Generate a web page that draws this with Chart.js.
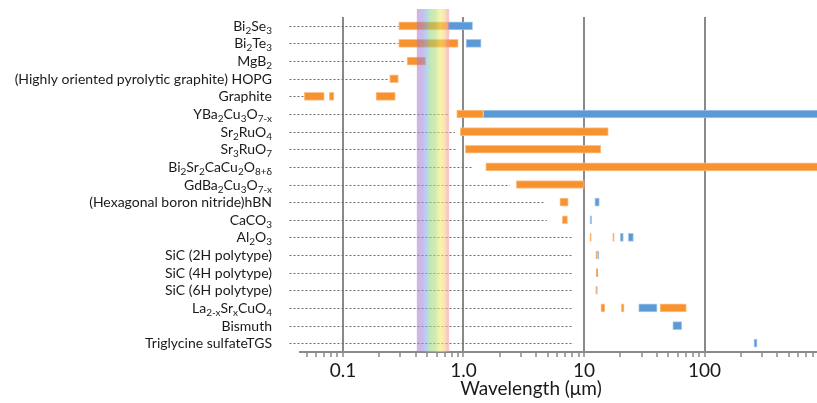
<!DOCTYPE html>
<html>
<head>
<meta charset="utf-8">
<script src="https://cdn.jsdelivr.net/npm/chart.js@4/dist/chart.umd.min.js"></script>
<style>
  html, body { margin: 0; padding: 0; background: #ffffff; }
  #wrap { width: 817px; height: 403px; }
</style>
</head>
<body>
<div id="wrap"><canvas id="c" width="817" height="403"></canvas></div>
<script>
// Materials, top to bottom. "_{...}" marks a subscript.
const materials = [
  "Bi_{2}Se_{3}",
  "Bi_{2}Te_{3}",
  "MgB_{2}",
  "(Highly oriented pyrolytic graphite) HOPG",
  "Graphite",
  "YBa_{2}Cu_{3}O_{7-x}",
  "Sr_{2}RuO_{4}",
  "Sr_{3}RuO_{7}",
  "Bi_{2}Sr_{2}CaCu_{2}O_{8+δ}",
  "GdBa_{2}Cu_{3}O_{7-x}",
  "(Hexagonal boron nitride)hBN",
  "CaCO_{3}",
  "Al_{2}O_{3}",
  "SiC (2H polytype)",
  "SiC (4H polytype)",
  "SiC (6H polytype)",
  "La_{2-x}Sr_{x}CuO_{4}",
  "Bismuth",
  "Triglycine sulfateTGS"
];

// Wavelength ranges in µm, [from, to]; one entry per material (null = none).
const orangeRangesA = [
  [0.29, 0.73], [0.29, 0.905], [0.34, 0.485], [0.244, 0.288], [0.0477, 0.070],
  [0.878, 1.46], [0.94, 15.9], [1.035, 13.8], [1.53, 1000], [2.74, 10.06],
  [6.3, 7.4], [6.6, 7.3], [11.2, 11.5], [12.5, 12.9], [12.6, 12.8],
  [12.5, 12.7], [13.8, 14.9], null, null
];
const orangeRangesB = [
  null, null, null, null, [0.0769, 0.0842],
  null, null, null, null, null,
  null, null, [17.3, 17.8], null, null,
  null, [20.4, 21.5], null, null
];
const orangeRangesC = [
  null, null, null, null, [0.188, 0.272],
  null, null, null, null, null,
  null, null, null, null, null,
  null, [42.7, 70.6], null, null
];
const blueRangesA = [
  [0.73, 1.19], [1.05, 1.40], null, null, null,
  [1.46, 1000], null, null, null, null,
  [12.3, 13.4], [11.2, 11.6], [20.0, 21.2], [12.9, 13.3], [12.8, 13.0],
  [12.7, 12.9], [28.4, 40.4], [54.5, 64.7], [257, 273]
];
const blueRangesB = [
  null, null, null, null, null,
  null, null, null, null, null,
  null, null, [23.3, 25.7], null, null,
  null, null, null, null
];

// Dotted guide lines run from a common start to these wavelengths.
const guideStart = 0.036;
const guideEnd = [
  0.29, 0.29, 0.32, 0.24, 0.047,
  0.74, 0.85, 0.89, 1.19, 2.43,
  4.75, 4.9, 8.1, 8.1, 8.1,
  8.1, 8.1, 8.1, 8.2
];

// Visible band, µm.
const visibleBand = [0.41, 0.76];

// Axis labels.
const decadeValues = [0.1, 1, 10, 100];
const decadeLabels = ["0.1", "1.0", "10", "100"];
const axisTitle = "Wavelength (\u03bcm)";

const FONT = "Lato, 'Open Sans', sans-serif";
const ORANGE = "#F7922F";
const BLUE = "#5B9AD5";
const GRID = "#8a8a8a";

function barSet(data, color, halo) {
  return {
    data: data,
    backgroundColor: color,
    borderColor: halo,
    borderWidth: 1,
    borderSkipped: false,
    barThickness: 8,
    grouped: false
  };
}

// Rich text with subscripts, right-aligned at xRight.
function drawRich(ctx, text, xRight, y, size) {
  const parts = [];
  const re = /_\{([^}]*)\}/g;
  let last = 0, m;
  while ((m = re.exec(text))) {
    if (m.index > last) parts.push({ t: text.slice(last, m.index), sub: false });
    parts.push({ t: m[1], sub: true });
    last = re.lastIndex;
  }
  if (last < text.length) parts.push({ t: text.slice(last), sub: false });
  const subSize = Math.round(size * 0.68);
  let w = 0;
  parts.forEach(p => {
    ctx.font = (p.sub ? subSize : size) + "px " + FONT;
    p.w = ctx.measureText(p.t).width;
    w += p.w;
  });
  let x = xRight - w;
  ctx.textAlign = "left";
  ctx.textBaseline = "alphabetic";
  parts.forEach(p => {
    ctx.font = (p.sub ? subSize : size) + "px " + FONT;
    ctx.fillText(p.t, x, p.sub ? y + 3 : y);
    x += p.w;
  });
}

const decorations = {
  id: "decorations",
  beforeDatasetsDraw(chart) {
    const { ctx, scales: { x, y } } = chart;
    ctx.save();
    ctx.strokeStyle = "#6f6f6f";
    ctx.lineWidth = 1;
    ctx.setLineDash([2, 2]);
    guideEnd.forEach((end, i) => {
      const py = Math.round(y.getPixelForValue(i)) + 0.5;
      ctx.beginPath();
      ctx.moveTo(x.getPixelForValue(guideStart), py);
      ctx.lineTo(x.getPixelForValue(end), py);
      ctx.stroke();
    });
    ctx.restore();
  },
  afterDatasetsDraw(chart) {
    const { ctx, chartArea, scales: { x, y } } = chart;
    // visible-light band
    const x0 = x.getPixelForValue(visibleBand[0]);
    const x1 = x.getPixelForValue(visibleBand[1]);
    const g = ctx.createLinearGradient(x0, 0, x1, 0);
    g.addColorStop(0.00, "rgb(165,120,200)");
    g.addColorStop(0.17, "rgb(160,130,215)");
    g.addColorStop(0.28, "rgb(120,170,235)");
    g.addColorStop(0.40, "rgb(140,210,130)");
    g.addColorStop(0.58, "rgb(175,220,110)");
    g.addColorStop(0.72, "rgb(240,235,105)");
    g.addColorStop(0.86, "rgb(245,205,120)");
    g.addColorStop(0.94, "rgb(245,150,150)");
    g.addColorStop(1.00, "rgb(245,150,150)");
    ctx.save();
    ctx.globalAlpha = 0.55;
    ctx.fillStyle = g;
    ctx.fillRect(x0, 9, x1 - x0, chartArea.bottom - 9);
    ctx.restore();

    // material names
    ctx.save();
    ctx.fillStyle = "#1a1a1a";
    materials.forEach((name, i) => {
      drawRich(ctx, name, 272, y.getPixelForValue(i) + 5, 14);
    });
    // axis title
    ctx.font = "19px " + FONT;
    ctx.textAlign = "center";
    ctx.textBaseline = "alphabetic";
    ctx.fillText(axisTitle, 531, 395);
    ctx.restore();
  }
};

const isDecade = v => decadeValues.some(d => Math.abs(d - v) < d * 1e-6);

new Chart(document.getElementById("c"), {
  type: "bar",
  data: {
    labels: materials,
    datasets: [
      barSet(orangeRangesA, ORANGE, "rgba(250,190,130,0.9)"),
      barSet(orangeRangesB, ORANGE, "rgba(250,190,130,0.9)"),
      barSet(orangeRangesC, ORANGE, "rgba(250,190,130,0.9)"),
      barSet(blueRangesA, BLUE, "rgba(160,195,235,0.9)"),
      barSet(blueRangesB, BLUE, "rgba(160,195,235,0.9)")
    ]
  },
  options: {
    indexAxis: "y",
    responsive: false,
    animation: false,
    devicePixelRatio: 1,
    layout: { padding: { left: 300, top: 17, right: 0, bottom: 0 } },
    plugins: { legend: { display: false }, tooltip: { enabled: false } },
    scales: {
      y: {
        type: "category",
        offset: true,
        ticks: { display: false },
        grid: { display: false },
        border: { display: false },
        afterFit: s => { s.width = 0; }
      },
      x: {
        type: "logarithmic",
        min: 0.044,
        max: 857,
        afterFit: s => { s.height = 51; },
        afterBuildTicks: s => {
          const vals = [];
          for (let e = -2; e <= 2; e++) {
            for (let k = 1; k <= 9; k++) {
              const v = +(k * Math.pow(10, e)).toPrecision(6);
              if (v >= 0.044 && v <= 857) vals.push({ value: v });
            }
          }
          s.ticks = vals;
        },
        ticks: {
          autoSkip: false,
          maxRotation: 0,
          padding: 2,
          color: "#1a1a1a",
          font: { family: FONT, size: 19 },
          callback: v => {
            const i = decadeValues.findIndex(d => Math.abs(d - v) < d * 1e-6);
            return i >= 0 ? decadeLabels[i] : "";
          }
        },
        grid: {
          color: c => (c.tick && isDecade(c.tick.value)) ? GRID : "rgba(0,0,0,0)",
          lineWidth: 2,
          tickColor: GRID,
          tickWidth: 1.5,
          tickLength: 5,
          drawTicks: true
        },
        border: { display: true, color: GRID, width: 2 }
      }
    }
  },
  plugins: [decorations]
});
</script>
</body>
</html>
